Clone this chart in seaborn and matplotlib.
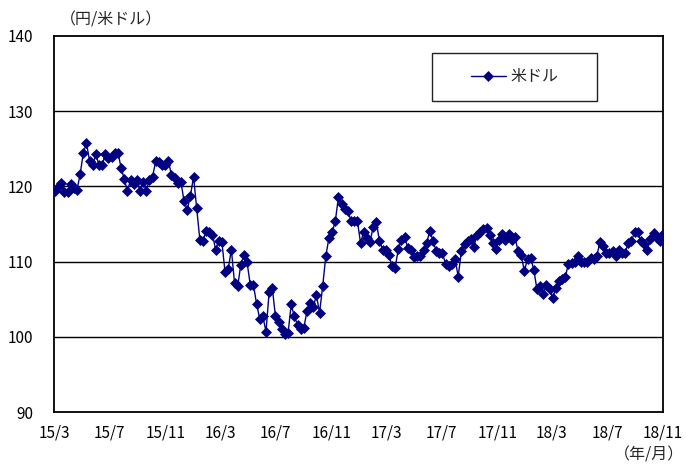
import matplotlib
matplotlib.use("Agg")
import matplotlib.pyplot as plt
import matplotlib.patches as patches
import seaborn as sns
import pandas as pd

# ---- data (weekly JPY per USD) ----
series_label = "米ドル"
y_unit = "（円/米ドル）"
x_unit = "（年/月）"
start_date = "2015-03-03"
end_date = "2018-11-01"
usd = [
    119.4, 119.9, 120.4, 119.3, 119.3, 120.3, 119.8, 119.5, 121.6, 124.4,
    125.8, 123.4, 122.8, 124.3, 122.8, 122.8, 124.3, 123.8, 123.9, 124.5,
    124.5, 122.5, 121.0, 119.4, 120.8, 120.3, 120.9, 119.4, 120.6, 119.4,
    120.9, 121.3, 123.4, 123.2, 122.9, 122.9, 123.4, 121.5, 121.1, 120.5,
    120.6, 118.0, 116.9, 118.7, 121.3, 117.1, 112.9, 112.8, 114.1, 113.9,
    113.6, 111.6, 112.8, 112.6, 108.6, 109.0, 111.6, 107.2, 106.7, 109.6,
    110.9, 109.9, 106.9, 106.9, 104.4, 102.4, 102.7, 100.7, 106.0, 106.5,
    102.7, 102.0, 101.1, 100.4, 100.5, 104.3, 102.7, 101.6, 101.0, 101.2,
    103.4, 104.5, 104.0, 105.5, 103.2, 106.8, 110.8, 113.2, 113.9, 115.4,
    118.6, 117.6, 117.0, 116.7, 115.4, 115.4, 115.4, 112.5, 113.9, 113.2,
    112.6, 114.6, 115.2, 112.8, 111.6, 111.5, 110.9, 109.4, 109.2, 111.7,
    112.9, 113.3, 111.8, 111.6, 110.6, 110.8, 110.8, 111.5, 112.5, 114.1,
    112.8, 111.4, 111.2, 111.1, 109.7, 109.4, 109.7, 110.4, 108.0, 111.4,
    112.3, 112.8, 113.0, 112.0, 113.6, 114.0, 114.3, 114.5, 113.5, 112.5,
    111.7, 112.9, 113.7, 112.9, 113.7, 112.9, 113.3, 111.4, 110.9, 108.7,
    110.4, 110.5, 108.9, 106.3, 106.8, 105.7, 106.9, 106.3, 105.2, 106.5,
    107.4, 107.7, 108.0, 109.7, 109.8, 110.0, 110.8, 110.0, 110.0, 109.9,
    110.5, 110.3, 110.8, 112.6, 112.1, 111.2, 111.1, 111.4, 110.8, 111.5,
    111.2, 111.2, 112.5, 112.8, 113.9, 113.9, 112.7, 112.3, 111.6, 113.0,
    113.8, 113.2, 112.8, 113.7,
]
y_ticks = [90, 100, 110, 120, 130, 140]

dates = pd.date_range(start_date, end_date, periods=len(usd))
df = pd.DataFrame({"date": dates, "usd": usd})

sns.set_style("white")
plt.rcParams["font.family"] = ["Noto Sans CJK JP", "DejaVu Sans"]

fig = plt.figure(figsize=(6.86, 4.65), dpi=100)
ax = fig.add_axes([54 / 686, 1 - 412 / 465, 609 / 686, 376 / 465])

for v in y_ticks[1:-1]:
    ax.axhline(v, color="black", lw=1.0, zorder=1)

sns.lineplot(data=df, x="date", y="usd", ax=ax, color="#000080",
             linewidth=1.0, marker="D", markersize=4.8,
             markeredgecolor="#000080", markeredgewidth=0.5,
             label=series_label, zorder=3)

fs = 11
ax.set_ylim(90, 140)
ax.set_yticks(y_ticks)
ax.set_yticklabels([str(v) for v in y_ticks], fontsize=fs)
x0 = pd.Timestamp("2015-03-01")
x1 = pd.Timestamp("2018-11-01")
ax.set_xlim(x0, x1)
xt = pd.date_range(x0, x1, freq="4MS")
ax.set_xticks(xt)
ax.set_xticklabels([f"{d.year % 100}/{d.month}" for d in xt], fontsize=fs)
ax.tick_params(axis="x", direction="in", length=5, width=1, pad=9, colors="black")
ax.tick_params(axis="y", length=0, pad=15, colors="black")
ax.set_xlabel("")
ax.set_ylabel("")
for s in ax.spines.values():
    s.set_visible(True)
    s.set_color("black")
    s.set_linewidth(1.3)

leg = ax.legend(loc="center", bbox_to_anchor=(0.756, 0.891), frameon=False,
                fontsize=fs + 0.5, handlelength=2.2, handletextpad=0.25)
ax.add_patch(patches.Rectangle((0.621, 0.827), 0.271, 0.128,
                               transform=ax.transAxes, fill=False,
                               edgecolor="#222222", lw=1.0, zorder=4))

fig.text(60 / 686, 1 - 20 / 465, y_unit, fontsize=fs + 0.5, va="center", ha="left")
fig.text(684 / 686, 1 - 455 / 465, x_unit, fontsize=fs + 0.5, va="center", ha="right")

fig.savefig("out.png", dpi=100)
